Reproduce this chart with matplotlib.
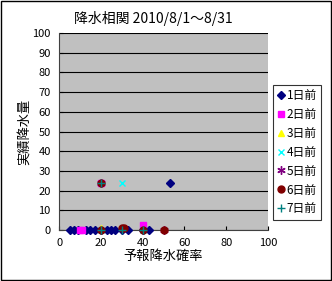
import matplotlib
matplotlib.use("Agg")
import matplotlib.pyplot as plt

plt.rcParams['font.family'] = ['Noto Sans CJK JP', 'DejaVu Sans']

title = "降水相関 2010/8/1～8/31"
x_label = "予報降水確率"
y_label = "実績降水量"

# (forecast probability %, observed rain) per lead day
d1_x = [5, 7, 9, 13, 15, 17, 20, 23, 25, 27, 30, 33, 40, 43, 53]
d1_y = [0, 0, 0, 0, 0, 0, 0, 0, 0, 0, 0, 0, 0, 0, 24]
d2_x = [10, 11, 20, 40]
d2_y = [0, 0, 24, 2.5]
d3_x = [20]
d3_y = [1]
d4_x = [20, 30, 40]
d4_y = [0, 24, 0]
d5_x = [20, 50]
d5_y = [24, 0]
d6_x = [20, 20, 30, 31, 40, 50]
d6_y = [0, 24, 1, 1, 0, 0]
d7_x = [20, 20, 30, 40]
d7_y = [0, 24, 0, 0]

series = [
    ("1日前", d1_x, d1_y, "D", "#000080", 4),
    ("2日前", d2_x, d2_y, "s", "#FF00FF", 5),
    ("3日前", d3_x, d3_y, "^", "#FFFF00", 5),
    ("4日前", d4_x, d4_y, "x", "#00FFFF", 5),
    ("5日前", d5_x, d5_y, (6, 2, 0), "#800080", 6),
    ("6日前", d6_x, d6_y, "o", "#800000", 5),
    ("7日前", d7_x, d7_y, "+", "#008080", 6),
]

fig = plt.figure(figsize=(3.32, 2.81), dpi=100)
fig.patch.set_facecolor("white")
fig.patches.append(plt.Rectangle((0.002, 0.002), 0.994, 0.994, transform=fig.transFigure,
                                 fill=False, edgecolor="black", linewidth=1))

ax = fig.add_axes([0.178, 0.181, 0.629, 0.702])
ax.set_facecolor("#C0C0C0")
for name, xs, ys, mk, col, ms in series:
    ax.plot(xs, ys, linestyle="none", marker=mk, color=col, markersize=ms,
            markeredgewidth=1.0, label=name, clip_on=False, zorder=3)

ax.set_xlim(0, 100)
ax.set_ylim(0, 100)
ax.set_xticks(range(0, 101, 20))
ax.set_yticks(range(0, 101, 10))
ax.tick_params(labelsize=8, length=3, direction="in", pad=6)
ax.yaxis.grid(True, color="black", linewidth=0.8)
ax.set_axisbelow(True)
for side in ["top", "right"]:
    ax.spines[side].set_visible(False)
ax.spines["left"].set_color("#404040")
ax.spines["bottom"].set_color("#404040")

ax.set_title(title, fontsize=10, pad=7, x=0.45)
ax.set_xlabel(x_label, fontsize=9.5, labelpad=1)
ax.set_ylabel(y_label, fontsize=9.5, labelpad=1)

leg = ax.legend(loc="center left", bbox_to_anchor=(1.025, 0.395), fontsize=8.5,
                frameon=True, fancybox=False, edgecolor="black", borderpad=0.35,
                labelspacing=0.5, handlelength=0.6, handletextpad=0.2,
                borderaxespad=0)
leg.get_frame().set_linewidth(0.8)

fig.savefig("out.png", dpi=100)
